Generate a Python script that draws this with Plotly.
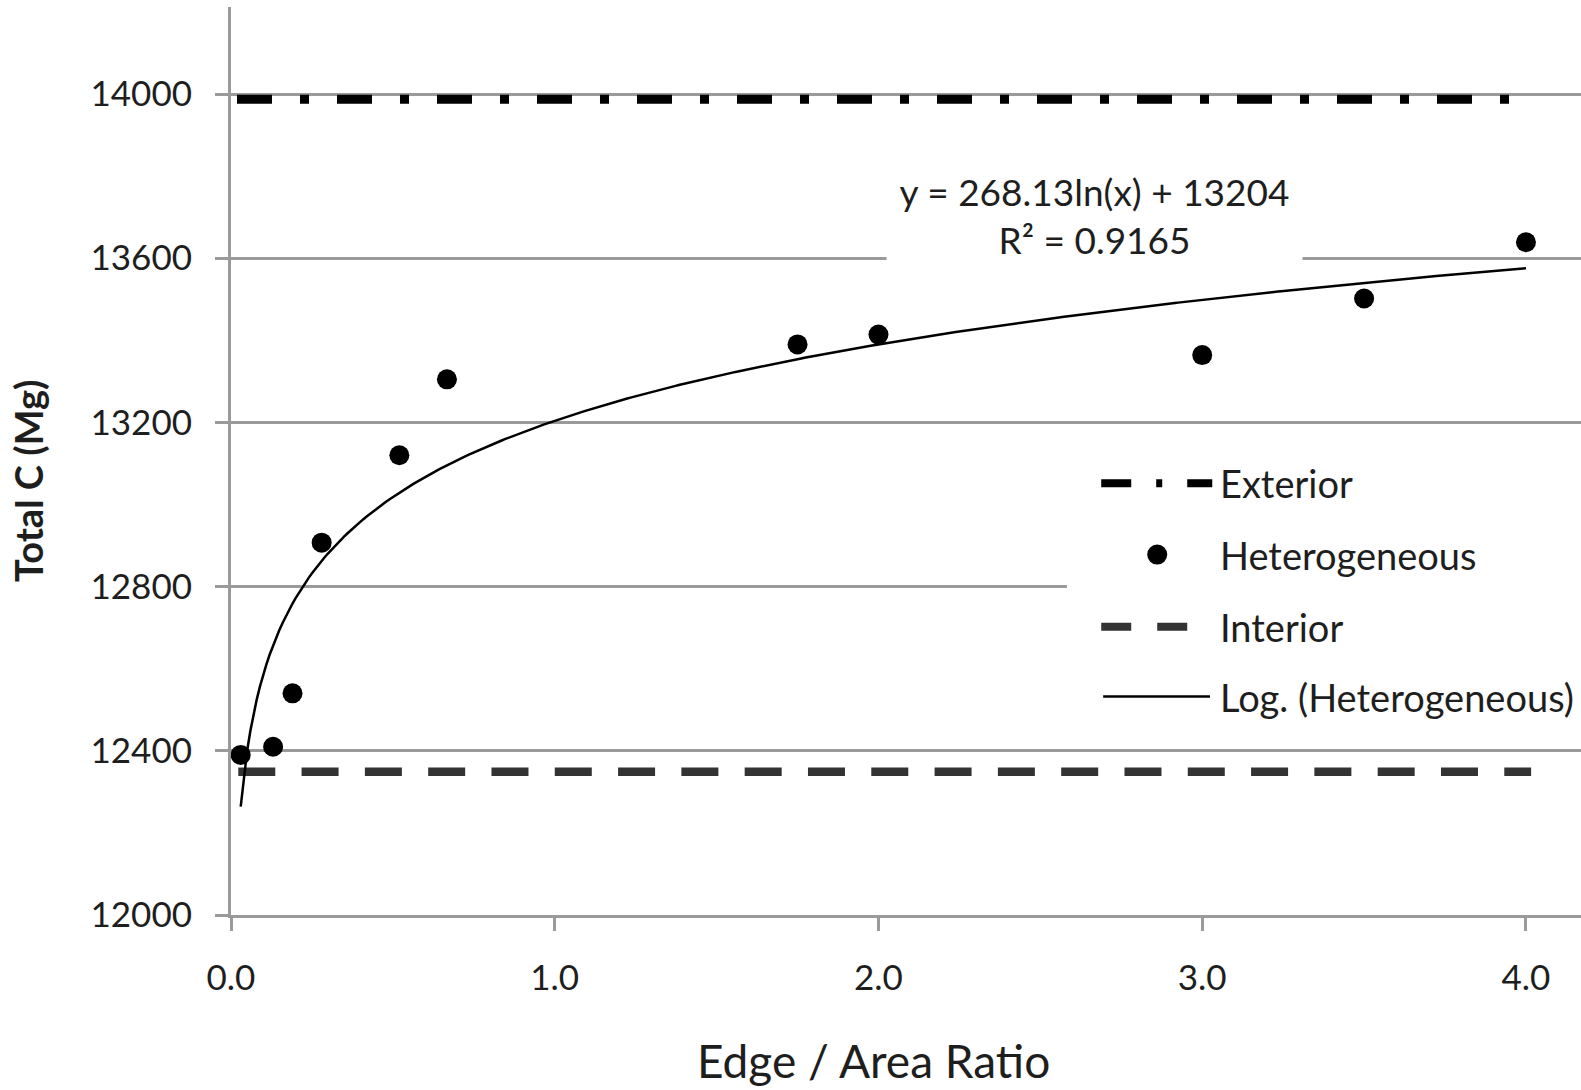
import numpy as np
import plotly.graph_objects as go

# ---- data ----
het_x = [0.03, 0.13, 0.19, 0.28, 0.52, 0.667, 1.75, 2.0, 3.0, 3.5, 4.0]
het_y = [12390, 12410, 12540, 12907, 13120, 13305, 13390, 13414, 13364, 13502, 13639]
exterior_x = [0.0185, 4.0]
exterior_y = [13987, 13987]
interior_x = [0.0225, 4.016]
interior_y = [12349, 12349]
fit_a = 268.13
fit_b = 13204
fit_r2 = 0.9165
y_ticks = [12000, 12400, 12800, 13200, 13600, 14000]
x_ticks = [0.0, 1.0, 2.0, 3.0, 4.0]
legend_names = ["Exterior", "Heterogeneous", "Interior", "Log. (Heterogeneous)"]
x_title = "Edge / Area Ratio"
y_title = "Total C (Mg)"

FONT = "Lato"
TXT = "#1e1e1e"
GRID = "#9a9a9a"

trend_x = np.linspace(min(het_x), max(het_x), 400)
trend_y = fit_a * np.log(trend_x) + fit_b

fig = go.Figure()

fig.add_trace(go.Scatter(x=exterior_x, y=exterior_y, mode="lines",
                         line=dict(color="black", width=9, dash="35px,28px,9px,28px"),
                         name=legend_names[0], showlegend=False))
fig.add_trace(go.Scatter(x=interior_x, y=interior_y, mode="lines",
                         line=dict(color="#333333", width=8.5, dash="37px,26.3px"),
                         name=legend_names[2], showlegend=False))
fig.add_trace(go.Scatter(x=trend_x, y=trend_y, mode="lines",
                         line=dict(color="black", width=2.5),
                         name=legend_names[3], showlegend=False))
fig.add_trace(go.Scatter(x=het_x, y=het_y, mode="markers",
                         marker=dict(color="black", size=20),
                         name=legend_names[1], showlegend=False))

# white box behind legend (covers gridline)
fig.add_shape(type="rect", xref="x", yref="y", x0=2.582, x1=4.17, y0=12470, y1=13120,
              fillcolor="white", line=dict(width=0), layer="between")

# custom legend (long symbols as in reference)
leg_y = [13052, 12878, 12702, 12532]
sym_x0, sym_x1 = 2.688, 3.031
fig.add_shape(type="line", xref="x", yref="y", x0=sym_x0, x1=sym_x1, y0=leg_y[0], y1=leg_y[0],
              line=dict(color="black", width=8, dash="30px,25px,6px,25px"))
fig.add_shape(type="circle", xref="x", yref="y", xsizemode="pixel", ysizemode="pixel",
              xanchor=2.861, yanchor=leg_y[1], x0=-10, x1=10, y0=-10, y1=10,
              fillcolor="black", line=dict(width=0))
fig.add_shape(type="line", xref="x", yref="y", x0=sym_x0, x1=2.963, y0=leg_y[2], y1=leg_y[2],
              line=dict(color="#333333", width=8, dash="30px,26px"))
fig.add_shape(type="line", xref="x", yref="y", x0=2.694, x1=3.024, y0=leg_y[3], y1=leg_y[3],
              line=dict(color="black", width=2.5))
for name, yy in zip(legend_names, leg_y):
    fig.add_annotation(x=3.049, y=yy, xref="x", yref="y", text=name, showarrow=False,
                       xanchor="left", yanchor="middle",
                       font=dict(family=FONT, size=38, color=TXT))

# equation annotation
fig.add_annotation(x=2.668, y=13704, xref="x", yref="y",
                   text=f"y = {fit_a}ln(x) + {fit_b}<br>R² = {fit_r2}",
                   showarrow=False, align="center", width=411, bgcolor="white",
                   borderpad=2, font=dict(family=FONT, size=37, color=TXT))

# axis titles (positioned like the reference, which is not centred on the plot area)
fig.add_annotation(x=0.4756, y=-0.1597, xref="paper", yref="paper", text=x_title,
                   showarrow=False, xanchor="center", yanchor="middle",
                   font=dict(family=FONT, size=46, color=TXT))
fig.add_annotation(x=-0.1504, y=0.478, xref="paper", yref="paper", text=f"<b>{y_title}</b>",
                   showarrow=False, xanchor="center", yanchor="middle", textangle=-90,
                   font=dict(family=FONT, size=38, color=TXT))

fig.update_xaxes(range=[0, 4.17], tickvals=x_ticks, tickformat=".1f",
                 showgrid=False, zeroline=False, showline=True, linecolor=GRID, linewidth=2.5,
                 ticks="outside", ticklen=13, tickwidth=2.5, tickcolor=GRID,
                 ticklabelstandoff=17,
                 tickfont=dict(family=FONT, size=35, color=TXT))
fig.update_yaxes(range=[12000, 14212], tickvals=y_ticks, tickformat="d",
                 showgrid=True, gridcolor=GRID, gridwidth=2.5, zeroline=False,
                 showline=True, linecolor=GRID, linewidth=3,
                 ticks="outside", ticklen=13, tickwidth=2.5, tickcolor=GRID,
                 ticklabelstandoff=16,
                 tickfont=dict(family=FONT, size=35, color=TXT))

fig.update_layout(width=1581, height=1090, autosize=False,
                  margin=dict(l=231, r=0, t=7, b=175, autoexpand=False),
                  plot_bgcolor="white", paper_bgcolor="white", showlegend=False)

fig.write_html("out.html")
